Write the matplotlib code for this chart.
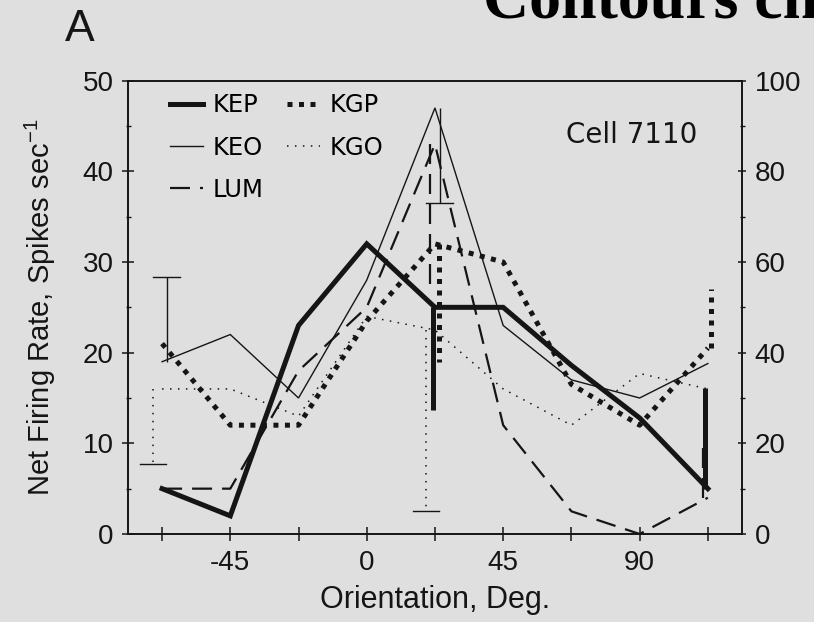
import matplotlib

matplotlib.use("Agg")
import matplotlib.pyplot as plt
from matplotlib.lines import Line2D


ANGLES = [-67.5, -45, -22.5, 0, 22.5, 45, 67.5, 90, 112.5]
ANGLE_LABELS = ["", "-45", "", "0", "", "45", "", "90", ""]

KEP = [5, 2, 23, 32, 25, 25, 18.6, 12.8, 5]
KEO = [19, 22, 15, 28, 47, 23, 17, 15, 18.8]
LUM = [5, 5, 18, 25, 43, 12, 2.5, 0, 4]
KGP = [21, 12, 12, 23.5, 32, 30, 16.5, 12, 20.5]
KGO = [16, 16, 13, 24, 22.5, 16, 12, 17.7, 16]

# one-sided error bars: angle, signed length (spikes/s)
KEP_ERR_AT = [22.5, 112.5]
KEP_ERR = [-11.3, 11.1]
KEO_ERR_AT = [-67.5, 22.5]
KEO_ERR = [9.3, -10.5]
LUM_ERR_AT = [22.5, 112.5]
LUM_ERR = [-16.5, 5.6]
KGP_ERR_AT = [22.5, 112.5]
KGP_ERR = [-13.0, 6.5]
KGO_ERR_AT = [-67.5, 22.5]
KGO_ERR = [-8.3, -20.0]

BG = "#dfdfdf"
INK = "#151515"
SANS = "Liberation Sans"

STYLES = {
    "KEP": dict(lw=3.6, ls="-"),
    "KEO": dict(lw=1.0, ls="-"),
    "LUM": dict(lw=1.6, ls=(0, (9, 4.5))),
    "KGP": dict(lw=3.6, ls=(0, (1, 1.3))),
    "KGO": dict(lw=1.1, ls=(0, (1, 4.2))),
}
# small sideways nudge of the bars (deg) so they don't sit on top of each other
NUDGE = {"KEP": -0.8, "KEO": 1.5, "LUM": -1.5, "KGP": 1.2, "KGO": -3.0}
CAPPED = {"KEO", "KGO"}


def draw_errors(ax, name, values, at, errs):
    style = STYLES[name]
    for a, e in zip(at, errs):
        y = values[ANGLES.index(a)]
        x = a + NUDGE[name]
        ax.plot([x, x], [y, y + e], color=INK, solid_capstyle="butt", **style)
        if name in CAPPED:
            ax.plot([x - 4.4, x + 4.4], [y + e, y + e], color=INK, lw=1.0)


def main():
    fig = plt.figure(figsize=(8.14, 6.22), dpi=100, facecolor=BG)
    ax = fig.add_axes([0.1572, 0.1415, 0.7543, 0.7288])
    ax.set_facecolor(BG)

    series = [("KEP", KEP), ("KEO", KEO), ("LUM", LUM), ("KGP", KGP), ("KGO", KGO)]
    for name, values in series:
        ax.plot(ANGLES, values, color=INK, solid_joinstyle="miter", **STYLES[name])

    draw_errors(ax, "KEP", KEP, KEP_ERR_AT, KEP_ERR)
    draw_errors(ax, "KEO", KEO, KEO_ERR_AT, KEO_ERR)
    draw_errors(ax, "LUM", LUM, LUM_ERR_AT, LUM_ERR)
    draw_errors(ax, "KGP", KGP, KGP_ERR_AT, KGP_ERR)
    draw_errors(ax, "KGO", KGO, KGO_ERR_AT, KGO_ERR)

    ax.set_xlim(-78.75, 123.75)
    ax.set_ylim(0, 50)
    ax.set_xticks(ANGLES)
    ax.set_xticklabels(ANGLE_LABELS, fontsize=20, family=SANS)
    ax.set_yticks(range(0, 51, 10))
    ax.set_yticks(range(5, 50, 10), minor=True)
    ax.set_yticklabels([str(v) for v in range(0, 51, 10)], fontsize=20, family=SANS)
    ax.tick_params(axis="x", direction="inout", length=10.5, width=1.1, pad=6, colors=INK)
    ax.tick_params(axis="y", which="major", direction="inout", length=8.6, width=1.1, pad=6, colors=INK)
    ax.tick_params(axis="y", which="minor", direction="inout", length=3.6, width=1.0, colors=INK)
    for sp in ax.spines.values():
        sp.set_color(INK)
        sp.set_linewidth(1.2)

    ax.set_xlabel("Orientation, Deg.", fontsize=22, family=SANS, labelpad=7, color=INK)
    ax.set_ylabel(r"Net Firing Rate, Spikes sec$^{\mathregular{-1}}$", fontsize=21,
                  family=SANS, labelpad=18, color=INK)

    ax2 = ax.twinx()
    ax2.set_ylim(0, 100)
    ax2.set_yticks(range(0, 101, 20))
    ax2.set_yticks(range(10, 100, 20), minor=True)
    ax2.set_yticklabels([str(v) for v in range(0, 101, 20)], fontsize=20, family=SANS)
    ax2.tick_params(axis="y", which="major", direction="inout", length=6, width=1.1, pad=6, colors=INK)
    ax2.tick_params(axis="y", which="minor", direction="inout", length=3.6, width=1.0, colors=INK)
    for sp in ax2.spines.values():
        sp.set_color(INK)
        sp.set_linewidth(1.2)

    handles = [Line2D([], [], color=INK, **STYLES[n]) for n in ["KEP", "KEO", "LUM", "KGP", "KGO"]]
    ax.legend(handles, ["KEP", "KEO", "LUM", "KGP", "KGO"], ncol=2, loc="upper left",
              bbox_to_anchor=(0.068, 0.972), frameon=False, borderpad=0, borderaxespad=0,
              handlelength=1.35, handletextpad=0.4, columnspacing=1.0, labelspacing=0.75,
              prop={"family": "DejaVu Sans", "size": 17.5})

    ax.text(0.82, 0.88, "Cell 7110", transform=ax.transAxes, ha="center", va="center",
            fontsize=20, family="DejaVu Sans", color=INK)

    fig.text(65 / 814, 1 - 41 / 622, "A", fontsize=32, family=SANS, color=INK,
             ha="left", va="baseline")
    # the page title runs off the top-right corner in the source scan
    fig.text(483 / 814, 1 - 18 / 622, "Contours ch", fontsize=46, family="Liberation Serif",
             weight="bold", color="black", ha="left", va="baseline")

    fig.savefig("out.png", dpi=100, facecolor=BG)
    plt.close(fig)


if __name__ == "__main__":
    main()
